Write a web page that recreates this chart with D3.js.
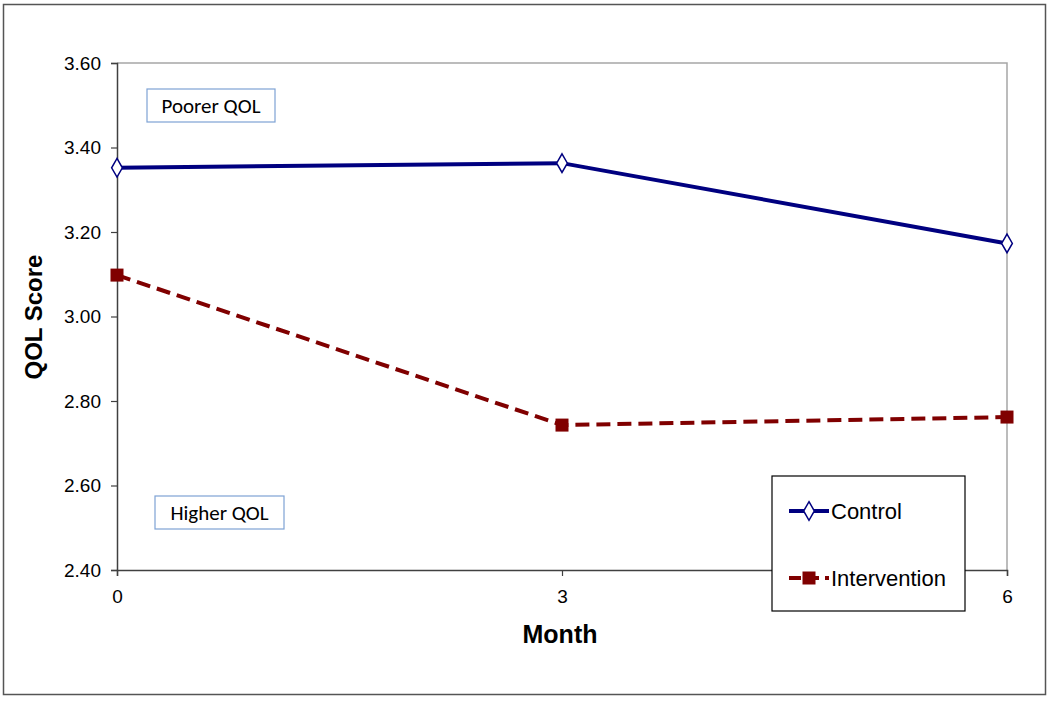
<!DOCTYPE html>
<html><head><meta charset="utf-8">
<script src="https://cdn.jsdelivr.net/npm/d3@7"></script>
<style>body{margin:0;background:#fff}svg{display:block}</style>
</head><body>
<svg id="c" width="1050" height="701"></svg>
<script>
const months = [0, 3, 6];
const control = [3.352, 3.363, 3.173];
const intervention = [3.098, 2.743, 2.762];
const yTicks = [2.40, 2.60, 2.80, 3.00, 3.20, 3.40, 3.60];
const seriesNames = ["Control", "Intervention"];

const svg = d3.select("#c");
const m = {l:117, r:1007, t:63, b:570};
const x = d3.scaleLinear().domain([0,6]).range([m.l, m.r]);
const y = d3.scaleLinear().domain([2.4,3.6]).range([m.b, m.t]);
const F = "Liberation Sans, Arial, sans-serif";

svg.append("rect").attr("x",3.5).attr("y",4.5).attr("width",1042).attr("height",690)
  .attr("fill","none").attr("stroke","#555").attr("stroke-width",1.5);

svg.append("path").attr("d",`M${m.l},${m.t}H${m.r}V${m.b}`).attr("fill","none").attr("stroke","#a6a6a6").attr("stroke-width",1.5);

const ya = svg.append("g").attr("transform",`translate(${m.l},0)`)
  .call(d3.axisLeft(y).tickValues(yTicks).tickFormat(d3.format(".2f")).tickSize(6).tickPadding(10));
ya.attr("font-size",19).attr("font-family",F);
ya.select(".domain").attr("stroke","#404040").attr("stroke-width",1.5);
ya.selectAll(".tick line").attr("stroke","#404040").attr("stroke-width",1.2);
ya.selectAll("text").style("font-size","19px").attr("fill","#000");

const xa = svg.append("g").attr("transform",`translate(0,${m.b})`)
  .call(d3.axisBottom(x).tickValues(months).tickFormat(d3.format("d")).tickSize(6).tickPadding(14));
xa.attr("font-size",19).attr("font-family",F);
xa.select(".domain").attr("stroke","#404040").attr("stroke-width",1.5);
xa.selectAll(".tick line").attr("stroke","#404040").attr("stroke-width",1.2);
xa.selectAll("text").style("font-size","19px").attr("fill","#000");

svg.append("text").attr("transform","translate(42,317) rotate(-90)").attr("text-anchor","middle")
  .attr("font-family",F).attr("font-weight","bold").style("font-size","24px").text("QOL Score");
svg.append("text").attr("x",560).attr("y",643).attr("text-anchor","middle")
  .attr("font-family",F).attr("font-weight","bold").style("font-size","25px").text("Month");

function note(x0,y0,w,h,t){
  svg.append("rect").attr("x",x0).attr("y",y0).attr("width",w).attr("height",h)
    .attr("fill","#fff").attr("stroke","#7ea2d4").attr("stroke-width",1.2);
  svg.append("text").attr("x",x0+w/2).attr("y",y0+h/2+7).attr("text-anchor","middle")
    .attr("font-family","Carlito, Open Sans, sans-serif").style("font-size","21px").text(t);
}
note(147,89,128,33,"Poorer QOL");
note(155,496,129,33,"Higher QOL");

const line = d3.line().x((d,i)=>x(months[i])).y(d=>y(d));
svg.append("path").datum(control).attr("d",line).attr("fill","none").attr("stroke","#000080").attr("stroke-width",4);
svg.append("path").datum(intervention).attr("d",line).attr("fill","none").attr("stroke","#800000").attr("stroke-width",4)
  .attr("stroke-dasharray","14,7");

const diamond = d3.symbol().type(d3.symbolDiamond).size(100);
svg.selectAll(".cm").data(control).enter().append("path")
  .attr("transform",(d,i)=>`translate(${x(months[i])},${y(d)})`).attr("d",diamond)
  .attr("fill","#fff").attr("stroke","#000080").attr("stroke-width",1.5);
svg.selectAll(".im").data(intervention).enter().append("rect")
  .attr("x",(d,i)=>x(months[i])-6.5).attr("y",d=>y(d)-6.5).attr("width",13).attr("height",13)
  .attr("fill","#800000");

svg.append("rect").attr("x",772).attr("y",476).attr("width",193).attr("height",135)
  .attr("fill","#fff").attr("stroke","#000").attr("stroke-width",1.2);
const ly = [511, 578];
svg.append("line").attr("x1",789).attr("x2",829).attr("y1",ly[0]).attr("y2",ly[0]).attr("stroke","#000080").attr("stroke-width",4);
svg.append("path").attr("transform",`translate(809,${ly[0]})`).attr("d",diamond).attr("fill","#fff").attr("stroke","#000080").attr("stroke-width",1.5);
svg.append("line").attr("x1",789).attr("x2",829).attr("y1",ly[1]).attr("y2",ly[1]).attr("stroke","#800000").attr("stroke-width",4).attr("stroke-dasharray","12,6");
svg.append("rect").attr("x",802.5).attr("y",ly[1]-6.5).attr("width",13).attr("height",13).attr("fill","#800000");
seriesNames.forEach((n,i)=>{
  svg.append("text").attr("x",831).attr("y",ly[i]+8).attr("font-family",F)
    .style("font-size","22px").text(n);
});
</script>
</body></html>
